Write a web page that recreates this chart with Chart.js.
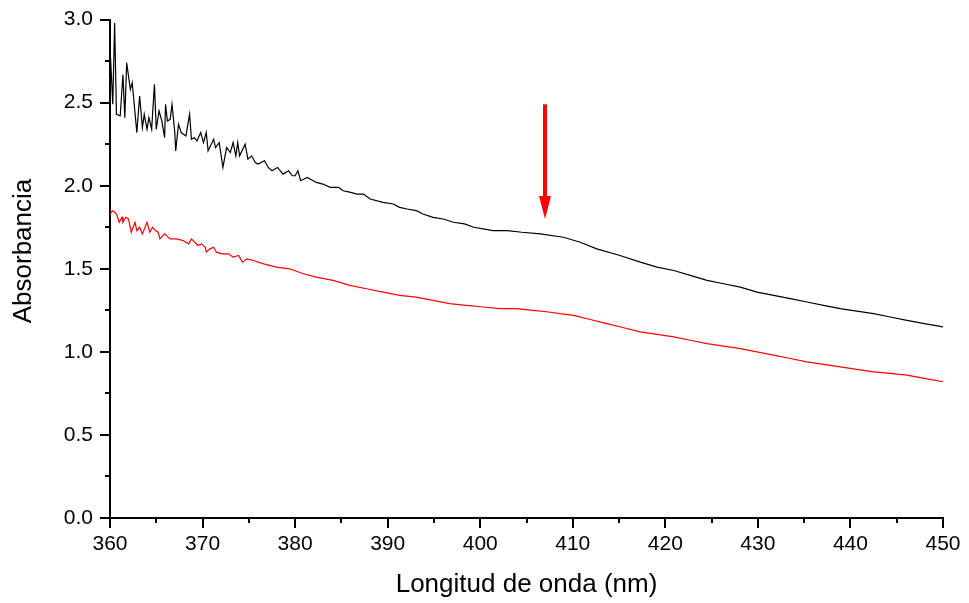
<!DOCTYPE html>
<html>
<head>
<meta charset="utf-8">
<script src="https://cdn.jsdelivr.net/npm/chart.js@4/dist/chart.umd.min.js"></script>
<style>
  html, body { margin: 0; padding: 0; background: #fff; }
  #wrap { width: 969px; height: 603px; }
</style>
</head>
<body>
<div id="wrap"><canvas id="espectro" width="969" height="603"></canvas></div>
<script>
// longitudes de onda (nm) y absorbancias
const blackX = [360.0, 360.3, 360.5, 360.7, 361.1, 361.4, 361.6, 361.8, 362.2, 362.4, 362.9, 363.2, 363.5, 363.7, 364.0, 364.2, 364.5, 364.8, 365.0, 365.3, 365.6, 365.9, 366.0, 366.2, 366.5, 366.7, 367.0, 367.1, 367.4, 367.7, 368.2, 368.6, 368.8, 369.1, 369.4, 369.8, 370.1, 370.4, 370.6, 371.2, 371.4, 371.8, 372.2, 372.6, 373.0, 373.3, 373.6, 373.8, 374.0, 374.6, 374.9, 375.3, 375.7, 376.0, 376.7, 377.1, 377.5, 378.1, 378.7, 379.3, 379.7, 380.0, 380.3, 380.6, 381.3, 382.3, 383.0, 383.8, 384.7, 385.2, 386.0, 386.7, 387.4, 388.1, 389.5, 390.6, 391.3, 392.1, 393.1, 393.8, 394.9, 396.0, 397.1, 398.3, 399.3, 400.3, 401.4, 402.9, 404.5, 406.5, 409.0, 410.8, 412.6, 415.1, 417.3, 419.1, 420.9, 422.7, 424.5, 426.3, 428.1, 429.9, 431.7, 433.5, 435.3, 437.1, 438.9, 440.7, 442.5, 444.3, 446.1, 448.0, 450.0];
const blackY = [2.84, 2.49, 2.98, 2.43, 2.42, 2.67, 2.41, 2.74, 2.58, 2.62, 2.32, 2.54, 2.35, 2.43, 2.34, 2.41, 2.34, 2.61, 2.34, 2.45, 2.39, 2.29, 2.49, 2.39, 2.40, 2.49, 2.32, 2.21, 2.37, 2.32, 2.30, 2.43, 2.28, 2.29, 2.27, 2.32, 2.26, 2.32, 2.21, 2.28, 2.23, 2.26, 2.11, 2.23, 2.20, 2.26, 2.18, 2.26, 2.18, 2.25, 2.16, 2.18, 2.14, 2.13, 2.15, 2.11, 2.09, 2.11, 2.07, 2.09, 2.06, 2.06, 2.09, 2.03, 2.05, 2.02, 2.01, 1.99, 1.99, 1.97, 1.96, 1.95, 1.95, 1.92, 1.90, 1.89, 1.87, 1.86, 1.85, 1.83, 1.81, 1.80, 1.78, 1.77, 1.75, 1.74, 1.73, 1.73, 1.72, 1.71, 1.69, 1.66, 1.62, 1.58, 1.54, 1.51, 1.49, 1.46, 1.43, 1.41, 1.39, 1.36, 1.34, 1.32, 1.30, 1.28, 1.26, 1.245, 1.23, 1.21, 1.19, 1.17, 1.15];

const redX = [360.0, 360.3, 360.7, 361.0, 361.3, 361.4, 361.7, 362.0, 362.3, 362.7, 362.9, 363.2, 363.5, 364.0, 364.3, 364.6, 364.9, 365.2, 365.4, 365.9, 366.5, 367.2, 367.9, 368.5, 368.8, 369.5, 369.9, 370.3, 370.4, 370.8, 371.2, 371.5, 372.1, 372.8, 373.3, 373.9, 374.3, 374.8, 375.5, 376.6, 378.0, 379.4, 380.9, 382.3, 384.1, 385.9, 387.7, 389.5, 391.3, 393.1, 394.9, 396.7, 398.5, 400.3, 402.1, 403.9, 405.7, 407.4, 408.6, 410.1, 411.9, 413.7, 415.5, 417.3, 419.1, 420.9, 422.7, 424.5, 426.3, 428.1, 429.9, 431.7, 433.5, 435.3, 437.1, 438.9, 440.7, 442.5, 444.3, 446.1, 448.0, 450.0];
const redY = [1.83, 1.85, 1.83, 1.78, 1.81, 1.78, 1.81, 1.80, 1.72, 1.78, 1.73, 1.75, 1.71, 1.78, 1.72, 1.75, 1.73, 1.72, 1.68, 1.71, 1.68, 1.68, 1.67, 1.65, 1.68, 1.64, 1.65, 1.63, 1.60, 1.62, 1.63, 1.60, 1.59, 1.59, 1.57, 1.58, 1.54, 1.56, 1.55, 1.53, 1.51, 1.50, 1.47, 1.45, 1.43, 1.40, 1.38, 1.36, 1.34, 1.33, 1.31, 1.29, 1.28, 1.27, 1.26, 1.26, 1.25, 1.24, 1.23, 1.22, 1.195, 1.17, 1.145, 1.12, 1.105, 1.09, 1.07, 1.05, 1.035, 1.02, 1.00, 0.98, 0.96, 0.94, 0.925, 0.91, 0.895, 0.88, 0.87, 0.86, 0.84, 0.82];

// flecha roja (hombro cerca de 407 nm)
const arrowX = 407;
const arrowFrom = 2.49;
const arrowTo = 1.80;

const FONT = "'Liberation Sans', Arial, sans-serif";

function toPoints(xs, ys) {
  return xs.map((x, i) => ({ x: x, y: ys[i] }));
}

// marcas menores entre las mayores
const minorTicks = {
  id: "minorTicks",
  afterDraw(chart) {
    const ctx = chart.ctx;
    ctx.save();
    ctx.strokeStyle = "#000";
    ctx.lineWidth = 2;
    const xs = chart.scales.x;
    const ys = chart.scales.y;
    for (let i = 0; i < xs.ticks.length - 1; i++) {
      const px = Math.round(xs.getPixelForValue((xs.ticks[i].value + xs.ticks[i + 1].value) / 2));
      ctx.beginPath();
      ctx.moveTo(px, xs.top);
      ctx.lineTo(px, xs.top + 5);
      ctx.stroke();
    }
    for (let i = 0; i < ys.ticks.length - 1; i++) {
      const py = Math.round(ys.getPixelForValue((ys.ticks[i].value + ys.ticks[i + 1].value) / 2));
      ctx.beginPath();
      ctx.moveTo(ys.right, py);
      ctx.lineTo(ys.right - 5, py);
      ctx.stroke();
    }
    ctx.restore();
  },
};

// titulo vertical, un poco por encima del centro como en el original
const yTitle = {
  id: "yTitle",
  afterDraw(chart) {
    const ctx = chart.ctx;
    ctx.save();
    ctx.translate(24, 251);
    ctx.rotate(-Math.PI / 2);
    ctx.fillStyle = "#000";
    ctx.font = "26px " + FONT;
    ctx.textAlign = "center";
    ctx.textBaseline = "middle";
    ctx.fillText("Absorbancia", 0, 0);
    ctx.restore();
  },
};

const arrow = {
  id: "arrow",
  afterDatasetsDraw(chart) {
    const ctx = chart.ctx;
    const x = chart.scales.x.getPixelForValue(arrowX);
    const y0 = chart.scales.y.getPixelForValue(arrowFrom);
    const y1 = chart.scales.y.getPixelForValue(arrowTo);
    ctx.save();
    ctx.fillStyle = "#ff0000";
    ctx.strokeStyle = "#ff0000";
    ctx.lineWidth = 4;
    ctx.beginPath();
    ctx.moveTo(x, y0);
    ctx.lineTo(x, y1 - 18);
    ctx.stroke();
    ctx.beginPath();
    ctx.moveTo(x - 6, y1 - 23);
    ctx.lineTo(x + 6, y1 - 23);
    ctx.lineTo(x, y1);
    ctx.closePath();
    ctx.fill();
    ctx.restore();
  },
};

const ctx = document.querySelector("#espectro").getContext("2d");
new Chart(ctx, {
  type: "line",
  data: {
    datasets: [
      {
        label: "negro",
        data: toPoints(blackX, blackY),
        borderColor: "#000000",
        borderWidth: 1.2,
        pointRadius: 0,
        tension: 0,
      },
      {
        label: "rojo",
        data: toPoints(redX, redY),
        borderColor: "#ff0000",
        borderWidth: 1.2,
        pointRadius: 0,
        tension: 0,
      },
    ],
  },
  options: {
    responsive: false,
    animation: false,
    devicePixelRatio: 1,
    layout: { padding: { left: 0, right: 26, top: 18, bottom: 0 } },
    plugins: { legend: { display: false }, tooltip: { enabled: false } },
    scales: {
      x: {
        type: "linear",
        min: 360,
        max: 450,
        afterFit: (s) => { s.height = 85; },
        border: { display: true, color: "#000", width: 2 },
        grid: { drawOnChartArea: false, drawTicks: true, tickLength: 10, color: "#000", lineWidth: 2 },
        ticks: { stepSize: 10, color: "#000", padding: 4, font: { family: FONT, size: 21 } },
        title: {
          display: true,
          text: "Longitud de onda (nm)",
          color: "#000",
          font: { family: FONT, size: 26 },
          padding: { top: 0, bottom: 3 },
        },
      },
      y: {
        min: 0,
        max: 3,
        afterFit: (s) => { s.width = 110; },
        border: { display: true, color: "#000", width: 2 },
        grid: { drawOnChartArea: false, drawTicks: true, tickLength: 10, color: "#000", lineWidth: 2 },
        ticks: {
          stepSize: 0.5,
          color: "#000",
          padding: 7,
          font: { family: FONT, size: 21 },
          callback: (v) => Number(v).toFixed(1),
        },
        title: { display: false },
      },
    },
  },
  plugins: [minorTicks, arrow, yTitle],
});
</script>
</body>
</html>
